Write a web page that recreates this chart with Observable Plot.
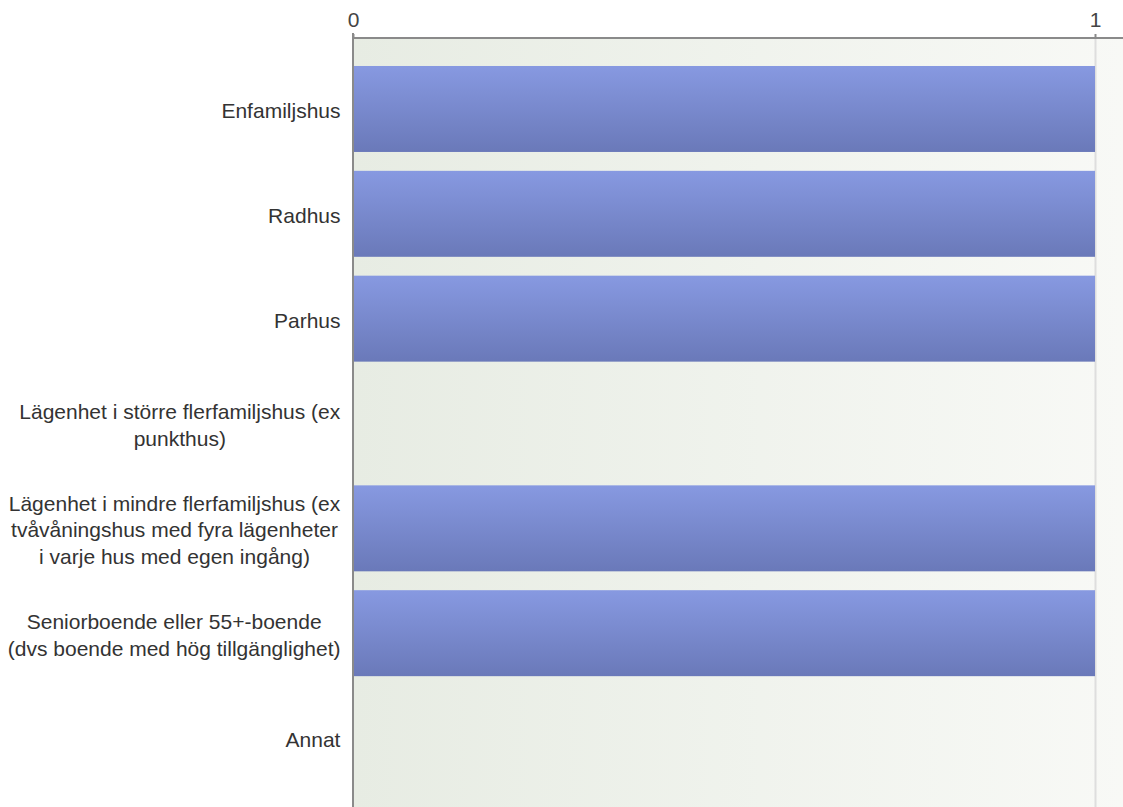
<!DOCTYPE html>
<html>
<head>
<meta charset="utf-8">
<script src="https://cdn.jsdelivr.net/npm/d3@7"></script>
<script src="https://cdn.jsdelivr.net/npm/@observablehq/plot@0.6"></script>
<style>
  html, body { margin: 0; padding: 0; background: #fff; overflow: hidden; }
  #chart svg { display: block; }
</style>
</head>
<body>
<div id="chart"></div>
<script>
const categories = [
  "Enfamiljshus",
  "Radhus",
  "Parhus",
  "Lägenhet i större flerfamiljshus (ex punkthus)",
  "Lägenhet i mindre flerfamiljshus (ex tvåvåningshus med fyra lägenheter i varje hus med egen ingång)",
  "Seniorboende eller 55+-boende (dvs boende med hög tillgänglighet)",
  "Annat"
];
const values = [1, 1, 1, 0, 1, 1, 0];
const tickLabels = [
  "Enfamiljshus",
  "Radhus",
  "Parhus",
  "Lägenhet i större flerfamiljshus (ex\npunkthus)",
  "Lägenhet i mindre flerfamiljshus (ex\ntvåvåningshus med fyra lägenheter\ni varje hus med egen ingång)",
  "Seniorboende eller 55+-boende\n(dvs boende med hög tillgänglighet)",
  "Annat"
];
const xTicks = [0, 1];

const data = categories.map((c, i) => ({category: c, value: values[i]}));
const labelOf = new Map(categories.map((c, i) => [c, tickLabels[i]]));

function defs() {
  const svgns = "http://www.w3.org/2000/svg";
  const d = document.createElementNS(svgns, "defs");
  d.innerHTML = `
    <linearGradient id="bgGrad" x1="0" y1="0" x2="1" y2="0">
      <stop offset="0" stop-color="#e7ece3"/>
      <stop offset="1" stop-color="#f8f9f6"/>
    </linearGradient>
    <linearGradient id="barGrad" x1="0" y1="0" x2="0" y2="1">
      <stop offset="0" stop-color="#8799e1"/>
      <stop offset="1" stop-color="#6a79b9"/>
    </linearGradient>`;
  return d;
}

function axisLines(index, scales, values, dims) {
  const g = d3.create("svg:g");
  const top = dims.marginTop, left = dims.marginLeft;
  g.append("line").attr("x1", left).attr("x2", dims.width).attr("y1", top).attr("y2", top)
    .attr("stroke", "#8a8a8a").attr("stroke-width", 2);
  g.append("line").attr("x1", left).attr("x2", left).attr("y1", top - 5).attr("y2", dims.height)
    .attr("stroke", "#8a8a8a").attr("stroke-width", 2);
  return g.node();
}

const chart = Plot.plot({
  width: 1123,
  height: 807,
  marginTop: 38,
  marginBottom: 0,
  marginLeft: 353,
  marginRight: 0,
  style: {fontFamily: "Liberation Sans, Arial, sans-serif", background: "#fff"},
  x: {domain: [0, 1], range: [353, 1095], label: null},
  y: {domain: categories, range: [38, 809], paddingInner: 0.18, paddingOuter: 0.267, round: false, label: null},
  marks: [
    defs,
    Plot.frame({fill: "url(#bgGrad)", stroke: null}),
    Plot.ruleX([1], {stroke: "#dedede", strokeWidth: 2}),
    Plot.barX(data, {x: "value", y: "category", fill: "url(#barGrad)"}),
    Plot.axisX({
      anchor: "top", ticks: xTicks, tickSize: 5, tickPadding: 7, label: null,
      tickFormat: d => String(d), fontSize: 21, color: "#444", stroke: "#8a8a8a", strokeWidth: 2
    }),
    Plot.axisY({
      anchor: "left", tickSize: 0, tickPadding: 13, label: null,
      tickFormat: d => labelOf.get(d), fontSize: 21, lineHeight: 1.27, color: "#333"
    }),
    axisLines
  ]
});

document.getElementById("chart").appendChild(chart);

// center multi-line tick labels within their block, keeping the block right-aligned
chart.querySelectorAll('g[aria-label="y-axis tick label"] text').forEach(t => {
  const w = t.getBBox().width;
  t.setAttribute("text-anchor", "middle");
  const tr = t.getAttribute("transform") || "";
  t.setAttribute("transform", tr + ` translate(${-w / 2},0)`);
});
</script>
</body>
</html>
